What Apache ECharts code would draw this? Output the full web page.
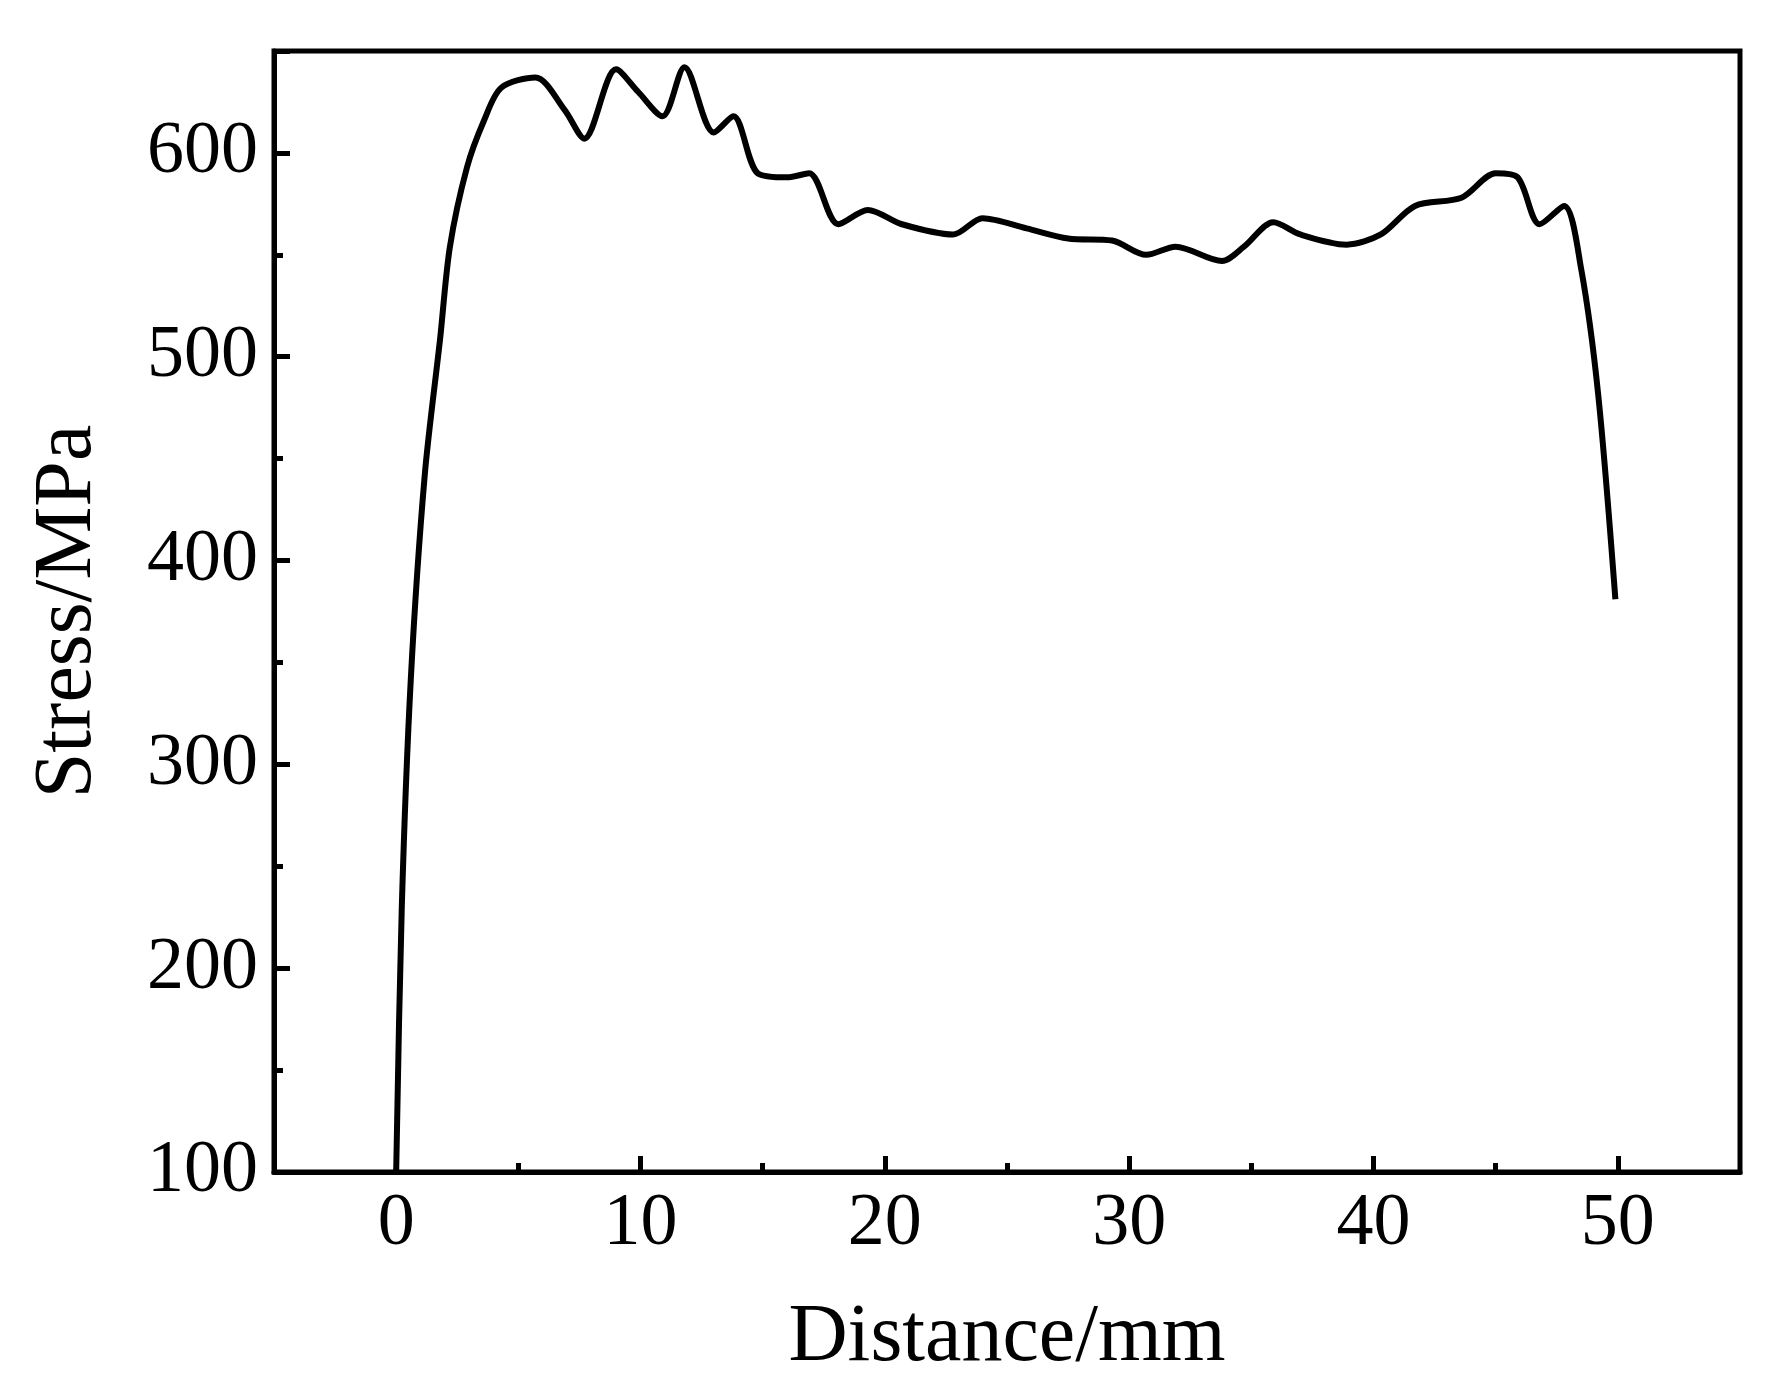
<!DOCTYPE html><html><head><meta charset="utf-8"><script src="https://cdn.jsdelivr.net/npm/echarts@6/dist/echarts.min.js"></script></head><body style="margin:0;background:#fff"><div id="c" style="width:1790px;height:1384px"></div><script>
const distance=[0,0.23,0.6,1.17,1.8,2.2,2.9,3.6,4.3,5.7,6.9,7.7,9.0,9.9,10.9,11.8,13.0,13.8,14.8,16.0,16.9,18.1,19.3,20.7,22.8,24,25.8,27.5,29.3,30.7,31.9,33.8,34.7,35.9,37,38.9,40.3,41.7,43.6,45,45.9,46.8,47.8,48.5,49.2,49.9];
const stress=[100,230,342,442,509,554,593,616,632,637,621,607,641,630,618,642,610,618,590,588,590,565,572,565,560,568,563,558,557,550,554,547,554,566,560,555,560,574,578,590,588,565,574,543,481,381];
const xMajor=[0,10,20,30,40,50];
const xMinor=[5,15,25,35,45];
const font='"Liberation Serif", "DejaVu Serif", serif';
const lbl={color:'#000',fontFamily:font,fontSize:74,margin:16};
const nm={color:'#000',fontFamily:font,fontSize:82};
const line={onZero:false,lineStyle:{color:'#000',width:5}};
const c=echarts.init(document.getElementById('c'));
c.setOption({animation:false,
 grid:{left:274,top:51,right:50,bottom:206,show:true,borderColor:'#000',borderWidth:5},
 xAxis:[{type:'value',min:-5,max:55,name:'Distance/mm',nameLocation:'middle',nameGap:125,nameTextStyle:nm,
   axisLine:line,splitLine:{show:false},
   axisTick:{inside:true,length:16,customValues:xMajor,lineStyle:{color:'#000',width:5}},
   axisLabel:Object.assign({customValues:xMajor},lbl)},
  {type:'value',min:-5,max:55,position:'bottom',axisLine:{show:false},splitLine:{show:false},
   axisTick:{inside:true,length:9,customValues:xMinor,lineStyle:{color:'#000',width:5}},
   axisLabel:{show:false}}],
 yAxis:{type:'value',min:100,max:650,interval:100,name:'Stress/MPa',nameLocation:'middle',nameGap:165,nameTextStyle:nm,
   axisLine:line,splitLine:{show:false},
   axisTick:{inside:true,length:16,lineStyle:{color:'#000',width:5}},
   minorTick:{show:true,splitNumber:2,length:9,lineStyle:{color:'#000',width:5}},
   axisLabel:Object.assign({formatter:v=>v<=600?v:''},lbl)},
 series:[{type:'line',data:distance.map((d,i)=>[d,stress[i]]),smooth:0.3,showSymbol:false,lineStyle:{color:'#000',width:6}}]});
</script></body></html>
